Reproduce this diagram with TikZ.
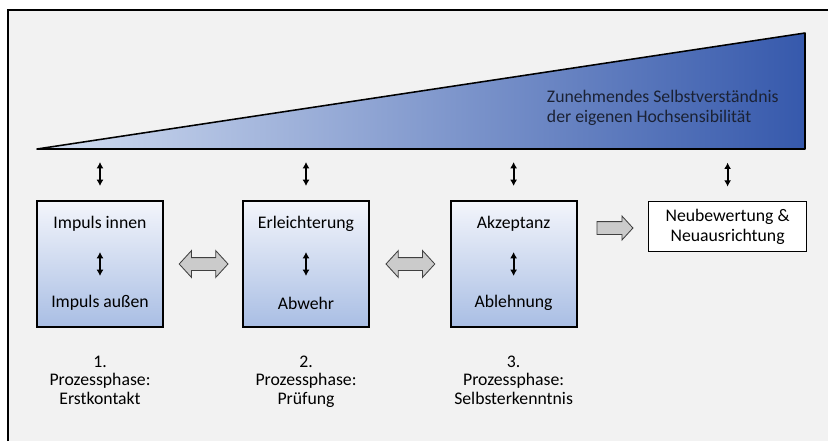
\documentclass[tikz,border=0pt]{standalone}
\usepackage{fontspec}
\setmainfont{Carlito}
\usetikzlibrary{positioning,shapes.arrows,arrows.meta}

\definecolor{bggray}{HTML}{F2F2F2}
\definecolor{wedgelight}{HTML}{D3DEF1}
\definecolor{wedgedark}{HTML}{3659AC}
\definecolor{boxtop}{HTML}{F3F5FB}
\definecolor{boxbottom}{HTML}{A9BEE4}
\definecolor{wedgetext}{HTML}{1B2235}
\definecolor{blockgray}{HTML}{CBCBCB}

\tikzset{
    every node/.style={font=\fontsize{12.6pt}{14.2pt}\selectfont},
    phase/.style={draw, line width=1.4pt, minimum width=3.15cm, minimum height=3.15cm,
        top color=boxtop, bottom color=boxbottom},
    result/.style={draw, fill=white, line width=1.1pt, minimum width=3.95cm,
        minimum height=1.25cm, align=center, inner sep=1pt},
    updown/.style={{Latex[length=4.5pt,width=5pt]}-{Latex[length=4.5pt,width=5pt]}, line width=1.3pt},
    dblock/.style={double arrow, draw=black!75, fill=blockgray, line width=0.6pt,
        minimum height=1.22cm, inner xsep=0pt, inner ysep=0.15cm,
        double arrow head extend=0.175cm, double arrow tip angle=95},
    sblock/.style={single arrow, draw=black!75, fill=blockgray, line width=0.6pt,
        minimum height=0.9cm, inner xsep=0pt, inner ysep=0.15cm,
        single arrow head extend=0.14cm, single arrow tip angle=95},
    caption/.style={align=center, font=\fontsize{12.6pt}{13.2pt}\selectfont}
}

\begin{document}
\begin{tikzpicture}
    \useasboundingbox (0,0) rectangle (20.7,-11.025);

    % background and frame
    \fill[bggray] (0.2,-0.25) rectangle (20.7,-11.025);
    \draw[line width=1.4pt] (0.2,-11.025) -- (0.2,-0.25) -- (20.7,-0.25);

    % wedge
    \shade[left color=wedgelight, right color=wedgedark] (0.925,-3.725) -- (20.125,-0.825) -- (20.125,-3.725) -- cycle;
    \draw[line width=1.1pt, line join=round] (0.925,-3.725) -- (20.125,-0.825) -- (20.125,-3.725) -- cycle;
    \node[anchor=west, align=left, text=wedgetext] (wedge) at (13.55,-2.7)
        {Zunehmendes Selbstverständnis\\der eigenen Hochsensibilität};

    % phases
    \node[phase] (b1) at (2.5,-6.6) {};
    \node[phase] (b2) at (7.65,-6.6) {};
    \node[phase] (b3) at (12.84,-6.6) {};
    \node[result] (b4) at (18.19,-5.66) {Neubewertung \&\\Neuausrichtung};

    \node (t1) at ([yshift=1cm]b1.center) {Impuls innen};
    \node (u1) at ([yshift=-0.98cm]b1.center) {Impuls außen};
    \node (t2) at ([yshift=1cm]b2.center) {Erleichterung};
    \node (u2) at ([yshift=-0.98cm]b2.center) {Abwehr};
    \node (t3) at ([yshift=1cm]b3.center) {Akzeptanz};
    \node (u3) at ([yshift=-0.98cm]b3.center) {Ablehnung};

    \foreach \b in {b1,b2,b3}
        \draw[updown] ([yshift=-0.3cm]\b.center) -- ([yshift=0.3cm]\b.center);
    \foreach \b in {b1,b2,b3,b4}
        \draw[updown] ([yshift=0.35cm]\b.north) -- ([yshift=0.95cm]\b.north);

    % block arrows
    \node[dblock] (d12) at (5.09,-6.6) {};
    \node[dblock] (d23) at (10.26,-6.6) {};
    \node[sblock] (s34) at (15.3,-5.7) {};

    % captions
    \node[caption, below=0.57cm of b1] (c1) {1.\\Prozessphase:\\Erstkontakt};
    \node[caption, below=0.57cm of b2] (c2) {2.\\Prozessphase:\\Prüfung};
    \node[caption, below=0.57cm of b3] (c3) {3.\\Prozessphase:\\Selbsterkenntnis};
\end{tikzpicture}
\end{document}
